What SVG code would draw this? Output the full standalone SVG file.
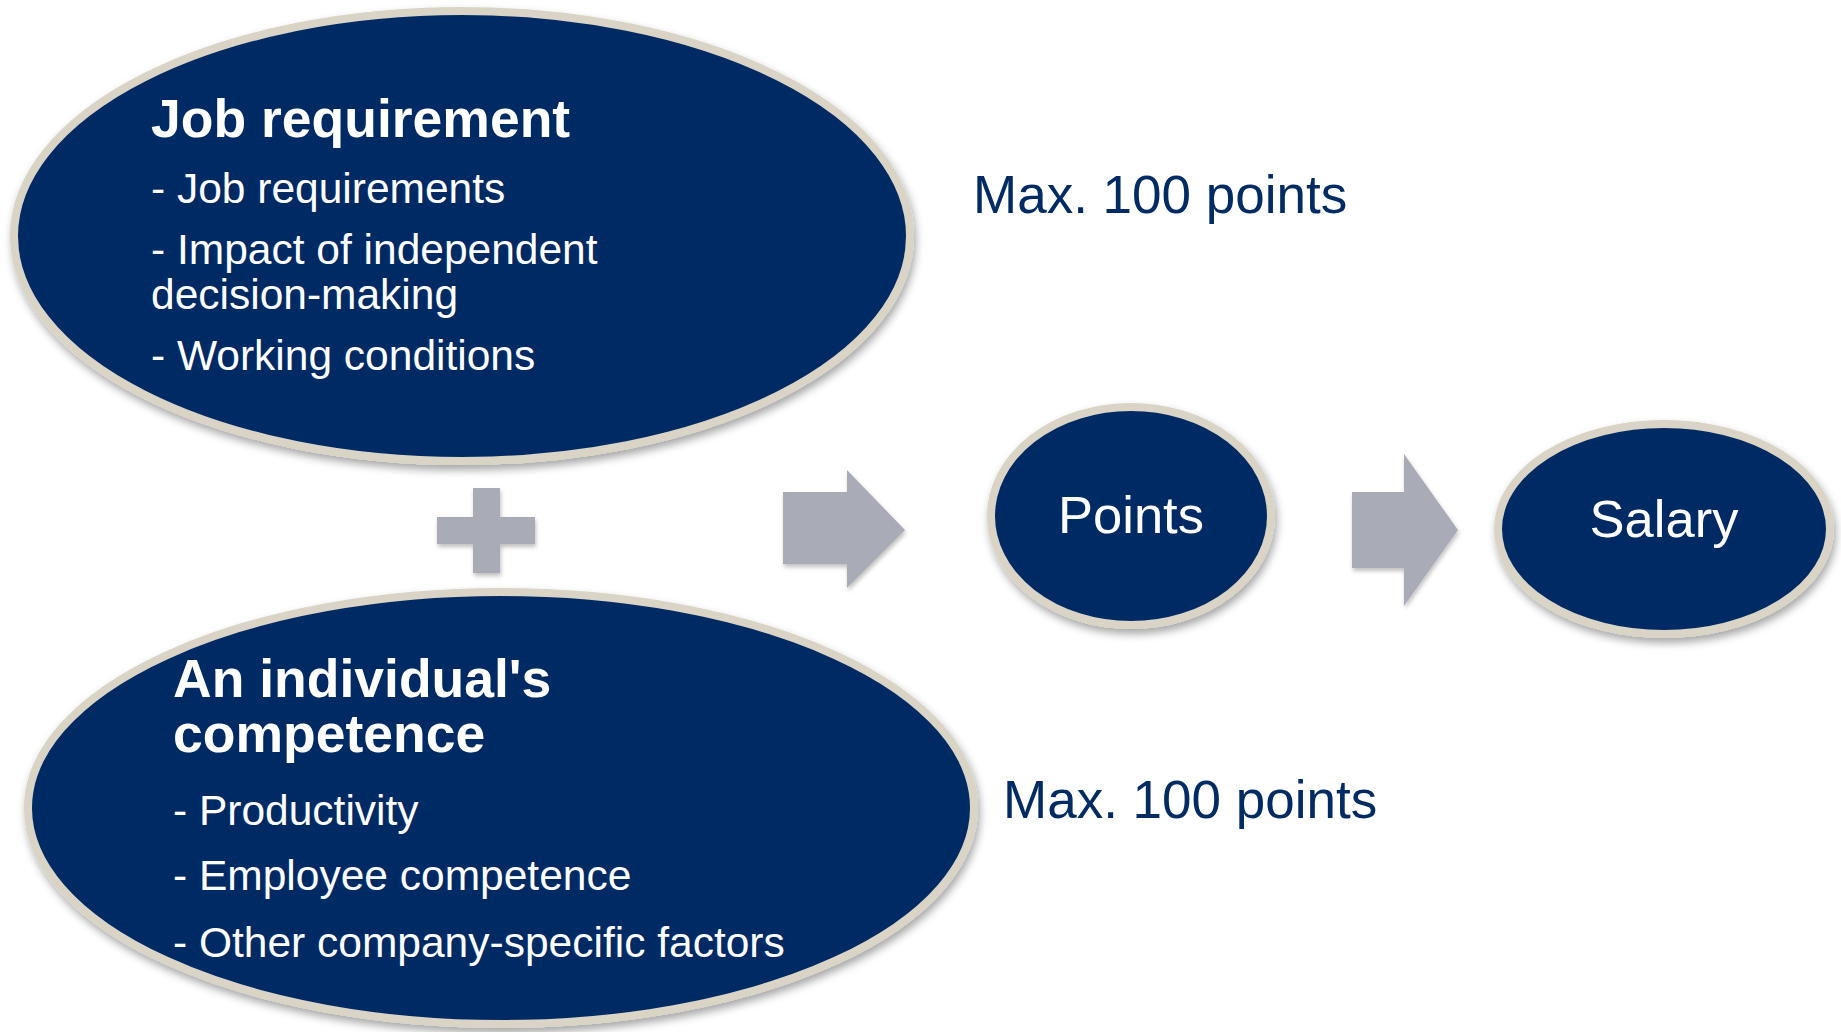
<svg xmlns="http://www.w3.org/2000/svg" width="1841" height="1032" viewBox="0 0 1841 1032">
<defs>
<filter id="sh" x="-10%" y="-10%" width="120%" height="125%">
<feDropShadow dx="2" dy="5" stdDeviation="4" flood-color="#000" flood-opacity="0.35"/>
</filter>
<filter id="sh2" x="-10%" y="-10%" width="130%" height="130%">
<feDropShadow dx="1" dy="3" stdDeviation="2" flood-color="#000" flood-opacity="0.25"/>
</filter>
<style>
.node{fill:#022A63;stroke:#D9D4C6;stroke-width:8;filter:url(#sh)}
.t{font-family:"Liberation Sans",Arial,sans-serif;fill:#fff}
.h{font-size:53.5px;font-weight:bold}
.b{font-size:42.5px}
.c{font-size:52.5px;text-anchor:middle}
.m{font-family:"Liberation Sans",Arial,sans-serif;font-size:53px;fill:#022A63}
.g{fill:#A9ABB7;filter:url(#sh2)}
</style>
</defs>
<rect width="1841" height="1032" fill="#fff"/>
<g id="job-requirement">
<ellipse class="node" cx="462" cy="236" rx="448" ry="225"/>
<text class="t h" x="151" y="137">Job requirement</text>
<text class="t b" x="151" y="203">- Job requirements</text>
<text class="t b" x="151" y="264">- Impact of independent</text>
<text class="t b" x="151" y="309">decision-making</text>
<text class="t b" x="151" y="370">- Working conditions</text>
</g>
<g id="competence">
<ellipse class="node" cx="501" cy="808" rx="473" ry="216"/>
<text class="t h" x="173" y="697">An individual's</text>
<text class="t h" x="173" y="752">competence</text>
<text class="t b" x="173" y="825">- Productivity</text>
<text class="t b" x="173" y="890">- Employee competence</text>
<text class="t b" x="173" y="957">- Other company-specific factors</text>
</g>
<g id="points">
<ellipse class="node" cx="1131" cy="516" rx="140" ry="109"/>
<text class="t c" x="1131" y="533">Points</text>
</g>
<g id="salary">
<ellipse class="node" cx="1664" cy="529" rx="166" ry="105"/>
<text class="t c" x="1664" y="537">Salary</text>
</g>
<g id="max-job">
<text class="m" x="973" y="213">Max. 100 points</text>
</g>
<g id="max-competence">
<text class="m" x="1003" y="818">Max. 100 points</text>
</g>
<g id="plus">
<path class="g" d="M473 488H500V517H535V544H500V573H473V544H437V517H473Z"/>
</g>
<g id="connectors">
<path class="g" d="M783 492H847V470L905 530L847 588V564H783Z"/>
<path class="g" d="M1352 492H1404V454L1458 530L1404 606V568H1352Z"/>
</g>
</svg>
